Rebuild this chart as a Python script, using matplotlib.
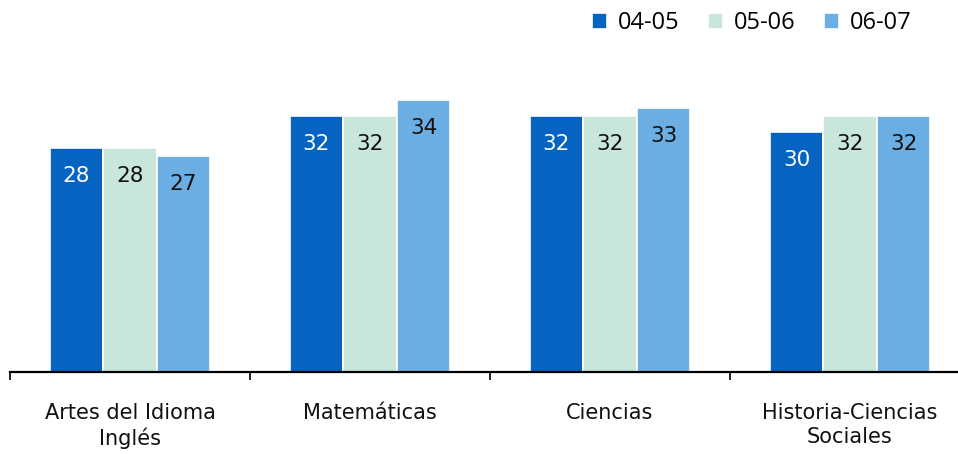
import numpy as np
import matplotlib.pyplot as plt

categories = ["Artes del Idioma\nInglés", "Matemáticas", "Ciencias", "Historia-Ciencias\nSociales"]
series_names = ["04-05", "05-06", "06-07"]
values_0405 = [28, 32, 32, 30]
values_0506 = [28, 32, 32, 32]
values_0607 = [27, 34, 33, 32]

colors = ["#0563C1", "#C9E6DA", "#6AAEE4"]
label_colors = ["white", "#111111", "#111111"]

W, H = 958, 454
fig = plt.figure(figsize=(W / 100, H / 100), dpi=100)
# axis runs from x=10px to x=970px (past right edge), baseline at y=372px
ax = fig.add_axes([10 / W, (H - 372) / H, 960 / W, 320 / H])

x = np.arange(len(categories))
width = 0.223
all_vals = [values_0405, values_0506, values_0607]
for i, vals in enumerate(all_vals):
    pos = x + (i - 1) * width
    bars = ax.bar(pos, vals, width=width, color=colors[i], edgecolor="white",
                  linewidth=1.2, label=series_names[i], zorder=2)
    for b, v in zip(bars, vals):
        ax.annotate(str(v), (b.get_x() + b.get_width() / 2, v),
                    xytext=(0, -19.8), textcoords="offset points",
                    ha="center", va="center", fontsize=15.5,
                    family="DejaVu Sans", color=label_colors[i])

ax.set_xlim(-0.5, len(categories) - 0.5)
ax.set_ylim(0, 40)
ax.set_yticks([])
for s in ["top", "right", "left"]:
    ax.spines[s].set_visible(False)
ax.spines["bottom"].set_linewidth(1.6)
ax.spines["bottom"].set_zorder(3)

ax.set_xticks(x)
ax.set_xticklabels(categories, fontsize=15, family="DejaVu Sans", color="#111111",
                   linespacing=1.3)
ax.tick_params(axis="x", which="major", length=0, pad=22)
ax.set_xticks(np.arange(-0.5, len(categories)), minor=True)
ax.tick_params(axis="x", which="minor", length=6, width=1.2, direction="out")

leg = fig.legend(loc="upper right", bbox_to_anchor=(921 / W, 1.0 - 2 / H), ncol=3,
                 frameon=False, prop={"family": "Open Sans", "size": 17},
                 handlelength=0.65, handleheight=0.65, handletextpad=0.45,
                 columnspacing=1.2, borderaxespad=0)

fig.savefig("out.png", dpi=100)
